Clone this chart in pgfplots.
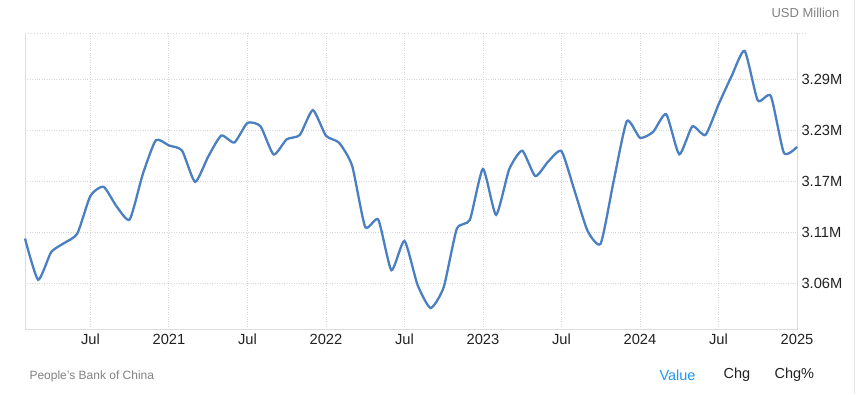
\documentclass[border=0pt]{standalone}
\usepackage{pgfplots}
\pgfplotsset{compat=1.18}
\usepackage{fontspec}
\setmainfont{Liberation Sans}
\definecolor{line}{RGB}{74,127,193}
\definecolor{gridc}{RGB}{215,215,215}
\definecolor{framec}{RGB}{220,220,220}
\definecolor{srcgray}{RGB}{130,130,130}
\definecolor{valblue}{RGB}{33,150,243}
\definecolor{txt}{RGB}{34,34,34}
\begin{document}
\begin{tikzpicture}[x=1pt,y=1pt]
\useasboundingbox (0,0) rectangle (862,394);
\fill[white] (0,0) rectangle (862,394);
\draw[framec!70!white, line width=1pt] (854,0) -- (854,394);
\begin{axis}[
  at={(25pt,65pt)}, anchor=south west,
  scale only axis, width=772pt, height=296pt,
  xmin=1, xmax=60, ymin=3.0056, ymax=3.3364,
  axis line style={draw=none},
  xtick={6,12,18,24,30,36,42,48,54,60},
  xticklabels={Jul,2021,Jul,2022,Jul,2023,Jul,2024,Jul,2025},
  ytick={3.057,3.114,3.171,3.228,3.285},
  yticklabels={3.06M,3.11M,3.17M,3.23M,3.29M},
  yticklabel pos=right,
  tick style={draw=none},
  grid=major,
  major grid style={gridc, dotted, line width=0.9pt},
  /pgf/number format/assume math mode=true,
  ticklabel style={font=\fontsize{14.7}{16}\selectfont, text=txt},
  xticklabel style={yshift=-1.5pt},
  yticklabel style={xshift=1pt},
  clip=false,
]
\draw[gridc, dotted, line width=0.9pt] (axis cs:1,3.3364) -- ([xshift=11pt]axis cs:60,3.3364);
\draw[framec, line width=1pt] (axis cs:1,3.3364) -- (axis cs:1,3.0056) -- (axis cs:60,3.0056) -- (axis cs:60,3.3364);
\addplot[line, line width=2.3pt, smooth, tension=0.35] coordinates {
(1,3.1067) (2,3.0606) (3,3.0915) (4,3.1017) (5,3.1123) (6,3.1544) (7,3.1646) (8,3.1426) (9,3.1280) (10,3.1785) (11,3.2165)
(12,3.2107) (13,3.2050) (14,3.1700) (15,3.1982) (16,3.2218) (17,3.2140) (18,3.2359) (19,3.2321) (20,3.2006) (21,3.2176) (22,3.2224) (23,3.2502)
(24,3.2216) (25,3.2138) (26,3.1880) (27,3.1197) (28,3.1278) (29,3.0713) (30,3.1041) (31,3.0549) (32,3.0290) (33,3.0524) (34,3.1175) (35,3.1277)
(36,3.1845) (37,3.1332) (38,3.1839) (39,3.2048) (40,3.1765) (41,3.1930) (42,3.2043) (43,3.1601) (44,3.1151) (45,3.1012) (46,3.1718) (47,3.2380)
(48,3.2193) (49,3.2258) (50,3.2457) (51,3.2008) (52,3.2320) (53,3.2224) (54,3.2564) (55,3.2882) (56,3.3164) (57,3.2611) (58,3.2659) (59,3.2024)
(60,3.2091)
};
\end{axis}
\node[anchor=east, text=srcgray, font=\fontsize{13}{15}\selectfont] at (843,381) {USD Million};
\node[anchor=west, text=srcgray, font=\fontsize{12}{14}\selectfont] at (26,18) {People's Bank of China};
\node[anchor=west, text=valblue, font=\fontsize{14.5}{16}\selectfont] at (656,19) {Value};
\node[anchor=west, text=txt, font=\fontsize{14.5}{16}\selectfont] at (720,19) {Chg};
\node[anchor=west, text=txt, font=\fontsize{14.5}{16}\selectfont] at (771,19) {Chg\%};
\end{tikzpicture}
\end{document}
